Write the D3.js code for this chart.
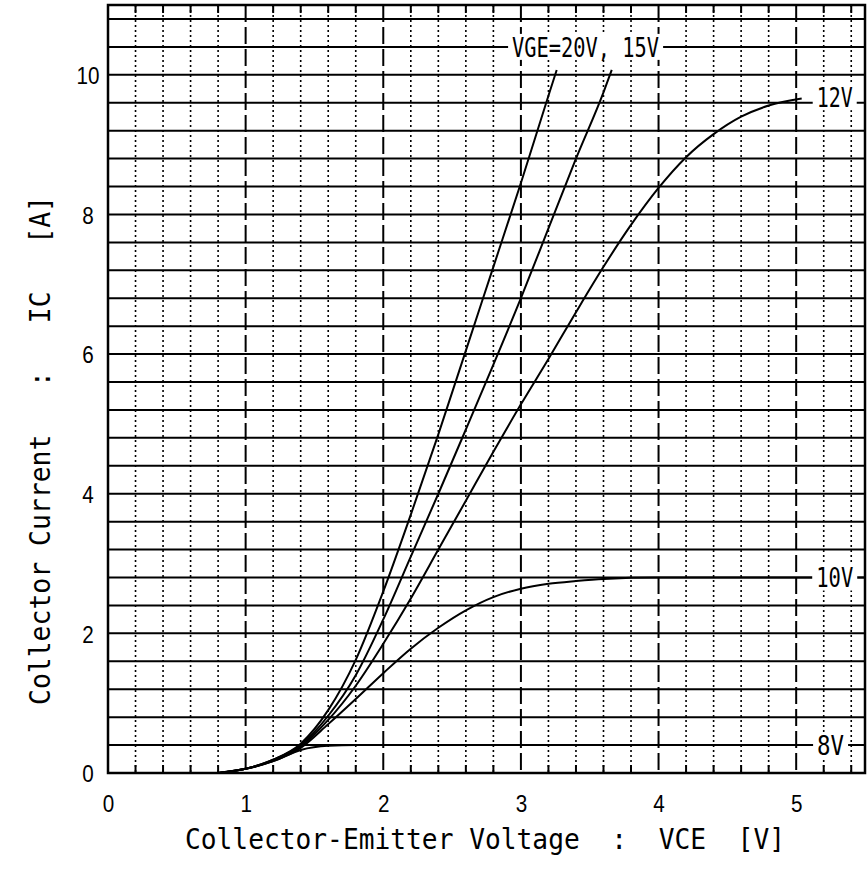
<!DOCTYPE html>
<html>
<head>
<meta charset="utf-8">
<script src="https://cdn.jsdelivr.net/npm/d3@7"></script>
<style>
body { margin: 0; background: #fff; }
svg text { font-family: 'DejaVu Sans Mono', monospace; fill: #000; white-space: pre; }
svg .tick text { font-family: 'Liberation Sans', Arial, sans-serif; }
</style>
</head>
<body>
<div id="chart"></div>
<script>

// Output characteristics (VCE in V, IC in A)
var vce_20v = [0.8, 1.0, 1.2, 1.4, 1.6, 1.8, 2.0, 2.2, 2.4, 2.6, 2.8, 3.0, 3.2, 3.26];
var ic_20v  = [0, 0.06, 0.19, 0.42, 0.9, 1.62, 2.6, 3.7, 4.85, 6.05, 7.25, 8.45, 9.7, 10.07];

var vce_15v = [0.8, 1.0, 1.2, 1.4, 1.6, 1.8, 2.0, 2.2, 2.4, 2.6, 2.8, 3.0, 3.2, 3.4, 3.6, 3.66];
var ic_15v  = [0, 0.06, 0.19, 0.4, 0.82, 1.4, 2.2, 3.1, 4.0, 4.92, 5.85, 6.8, 7.8, 8.8, 9.75, 10.07];

var vce_12v = [0.8, 1.0, 1.2, 1.4, 1.6, 1.8, 2.0, 2.2, 2.4, 2.6, 2.8, 3.0, 3.2, 3.4, 3.6, 3.8, 4.0, 4.2, 4.4, 4.6, 4.8, 5.04];
var ic_12v  = [0, 0.06, 0.18, 0.38, 0.76, 1.25, 1.85, 2.5, 3.2, 3.9, 4.6, 5.28, 5.93, 6.6, 7.25, 7.85, 8.38, 8.82, 9.15, 9.4, 9.56, 9.66];

var vce_10v = [0.8, 1.0, 1.2, 1.4, 1.6, 1.8, 2.0, 2.2, 2.4, 2.6, 2.8, 3.0, 3.2, 3.4, 3.6, 4.0, 5.5];
var ic_10v  = [0, 0.06, 0.17, 0.36, 0.7, 1.06, 1.43, 1.78, 2.08, 2.33, 2.52, 2.64, 2.71, 2.75, 2.78, 2.8, 2.8];

var vce_8v = [0.8, 1.0, 1.2, 1.4, 1.6, 1.8, 5.5];
var ic_8v  = [0, 0.06, 0.17, 0.33, 0.39, 0.4, 0.4];

// Curve labels, anchored in data units
var label_text = ['VGE=20V, 15V', '12V', '10V', '8V'];
var label_vce  = [3.47, 5.28, 5.28, 5.25];
var label_ic   = [10.4, 9.68, 2.8, 0.4];

var x_ticks = [0, 1, 2, 3, 4, 5];
var y_ticks = [0, 2, 4, 6, 8, 10];
var x_title = 'Collector-Emitter Voltage  :  VCE  [V]';
var y_title = 'Collector Current   :   IC   [A]';


function Curve_Chart ( container, w, h ) {

    // Scoping
    var self = this;

    // Size and margins
    var margin = {top: 5, right: 3, bottom: 98, left: 108};
    var width = w - margin.left - margin.right;
    var height = h - margin.top - margin.bottom;

    this.x = d3.scaleLinear().domain( [0, 5.5] ).range( [0, width] );
    this.y = d3.scaleLinear().domain( [0, 11] ).range( [height, 0] );

    this.root = d3.select( container )
                  .append( 'svg' )
                  .attr( 'width', w )
                  .attr( 'height', h );

    this.svg = this.root.append( 'g' )
                   .attr( 'transform', 'translate(' + margin.left + ',' + margin.top + ')' );

    // Grid: solid rows every 0.4 A, dotted columns every 0.2 V, dashed at whole volts
    var rows = d3.range( 1, 28 ).map( function ( k ) { return k * 0.4; } );
    var minor = d3.range( 1, 28 ).map( function ( k ) { return k * 0.2; } )
                  .filter( function ( v ) { return Math.abs( v - Math.round( v ) ) > 1e-6; } );
    var major = [1, 2, 3, 4, 5];

    this.svg.append( 'g' ).selectAll( 'line' )
        .data( minor ).enter().append( 'line' )
        .attr( 'x1', function ( d ) { return self.x( d ); } )
        .attr( 'x2', function ( d ) { return self.x( d ); } )
        .attr( 'y1', 0 ).attr( 'y2', height )
        .attr( 'stroke', '#000' ).attr( 'stroke-width', 1.6 )
        .attr( 'stroke-dasharray', '2,3' );

    this.svg.append( 'g' ).selectAll( 'line' )
        .data( major ).enter().append( 'line' )
        .attr( 'x1', function ( d ) { return self.x( d ); } )
        .attr( 'x2', function ( d ) { return self.x( d ); } )
        .attr( 'y1', 0 ).attr( 'y2', height )
        .attr( 'stroke', '#000' ).attr( 'stroke-width', 2 )
        .attr( 'stroke-dasharray', '17,5' );

    // small solid ticks along top and bottom edges
    var edge = this.svg.append( 'g' );
    edge.selectAll( '.tb' )
        .data( minor ).enter().append( 'line' )
        .attr( 'class', 'tb' )
        .attr( 'x1', function ( d ) { return self.x( d ); } )
        .attr( 'x2', function ( d ) { return self.x( d ); } )
        .attr( 'y1', height ).attr( 'y2', height - 8 )
        .attr( 'stroke', '#000' ).attr( 'stroke-width', 2 );
    edge.selectAll( '.tt' )
        .data( minor ).enter().append( 'line' )
        .attr( 'class', 'tt' )
        .attr( 'x1', function ( d ) { return self.x( d ); } )
        .attr( 'x2', function ( d ) { return self.x( d ); } )
        .attr( 'y1', 0 ).attr( 'y2', 8 )
        .attr( 'stroke', '#000' ).attr( 'stroke-width', 2 );

    this.svg.append( 'g' ).selectAll( 'line' )
        .data( rows ).enter().append( 'line' )
        .attr( 'x1', 0 ).attr( 'x2', width )
        .attr( 'y1', function ( d ) { return self.y( d ); } )
        .attr( 'y2', function ( d ) { return self.y( d ); } )
        .attr( 'stroke', '#000' ).attr( 'stroke-width', 2 );

    this.svg.append( 'rect' )
        .attr( 'x', 0 ).attr( 'y', 0 )
        .attr( 'width', width ).attr( 'height', height )
        .attr( 'fill', 'none' )
        .attr( 'stroke', '#000' ).attr( 'stroke-width', 2.5 );

    // Axes (labels only)
    var xa = this.svg.append( 'g' )
        .attr( 'transform', 'translate(0,' + height + ')' )
        .call( d3.axisBottom( self.x ).tickValues( x_ticks ).tickFormat( d3.format( 'd' ) )
                 .tickSize( 0 ).tickPadding( 22 ) );

    var ya = this.svg.append( 'g' )
        .call( d3.axisLeft( self.y ).tickValues( y_ticks ).tickFormat( d3.format( 'd' ) ).tickSize( 0 ) );

    [xa, ya].forEach( function ( a ) {
        a.select( '.domain' ).remove();
        a.attr( 'font-family', null ).attr( 'font-size', null );
        a.selectAll( 'text' )
         .style( 'font-size', '24px' )
         .attr( 'lengthAdjust', 'spacingAndGlyphs' )
         .attr( 'textLength', function ( d ) { return String( d ).length * 11.5; } );
    } );

    ya.selectAll( 'text' )
      .attr( 'x', -20 )
      .attr( 'text-anchor', 'middle' )
      .attr( 'dy', '0.36em' );

    // Titles
    this.root.append( 'text' )
        .attr( 'x', 185 ).attr( 'y', 849 )
        .style( 'font-size', '29px' )
        .attr( 'lengthAdjust', 'spacingAndGlyphs' )
        .attr( 'textLength', 600 )
        .text( x_title );

    this.root.append( 'text' )
        .attr( 'transform', 'translate(50,705) rotate(-90)' )
        .style( 'font-size', '29px' )
        .attr( 'lengthAdjust', 'spacingAndGlyphs' )
        .attr( 'textLength', 509 )
        .text( y_title );


    this.plot_curve = function ( x_values, y_values ) {

        var data = d3.zip( x_values, y_values );

        var line = d3.line()
                     .x( function ( d ) { return self.x( d[0] ); } )
                     .y( function ( d ) { return self.y( d[1] ); } )
                     .curve( d3.curveMonotoneX );

        self.svg.append( 'path' )
            .datum( data )
            .attr( 'd', line )
            .attr( 'fill', 'none' )
            .attr( 'stroke', '#000' )
            .attr( 'stroke-width', 2 );

    };

    this.add_labels = function ( texts, xs, ys ) {

        var widths = { 'VGE=20V, 15V': 147, '12V': 36, '10V': 37, '8V': 27 };

        var g = self.svg.selectAll( '.clabel' )
                    .data( texts ).enter()
                    .append( 'g' )
                    .attr( 'class', 'clabel' )
                    .attr( 'transform', function ( d, i ) {
                        return 'translate(' + self.x( xs[i] ) + ',' + self.y( ys[i] ) + ')';
                    } );

        g.append( 'rect' )
         .attr( 'x', function ( d ) { return -widths[d] / 2 - 4; } )
         .attr( 'y', -13 )
         .attr( 'width', function ( d ) { return widths[d] + 8; } )
         .attr( 'height', 26 )
         .attr( 'fill', '#fff' );

        g.append( 'text' )
         .attr( 'text-anchor', 'middle' )
         .attr( 'dy', '0.36em' )
         .style( 'font-size', '27px' )
         .attr( 'lengthAdjust', 'spacingAndGlyphs' )
         .attr( 'textLength', function ( d ) { return widths[d]; } )
         .text( function ( d ) { return d; } );

    };

}

var chart = new Curve_Chart( '#chart', 868, 871 );
chart.plot_curve( vce_20v, ic_20v );
chart.plot_curve( vce_15v, ic_15v );
chart.plot_curve( vce_12v, ic_12v );
chart.plot_curve( vce_10v, ic_10v );
chart.plot_curve( vce_8v, ic_8v );
chart.add_labels( label_text, label_vce, label_ic );

</script>
</body>
</html>
